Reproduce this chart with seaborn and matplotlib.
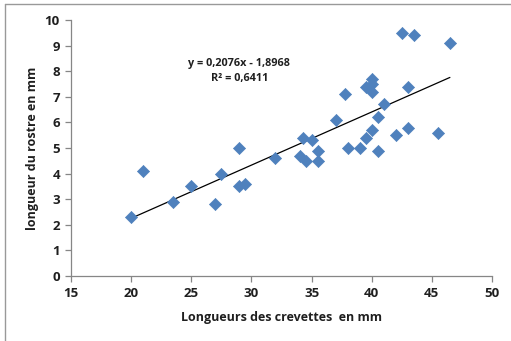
import numpy as np
import pandas as pd
import matplotlib
matplotlib.use("Agg")
import matplotlib.pyplot as plt
from matplotlib.lines import Line2D
import seaborn as sns

# Data
longueur_crevette = [20, 21, 23.5, 25, 27, 27.5, 29, 29, 29.5, 32,
                     34, 34.3, 34.5, 35, 35.5, 35.5, 37, 37.8, 38, 39,
                     39.5, 39.5, 40, 40, 40, 40, 40.5, 40.5, 41, 42,
                     42.5, 43, 43, 43.5, 45.5, 46.5]
longueur_rostre = [2.3, 4.1, 2.9, 3.5, 2.8, 4.0, 5.0, 3.5, 3.6, 4.6,
                   4.7, 5.4, 4.5, 5.3, 4.9, 4.5, 6.1, 7.1, 5.0, 5.0,
                   5.4, 7.4, 7.7, 7.5, 7.2, 5.7, 6.2, 4.9, 6.7, 5.5,
                   9.5, 7.4, 5.8, 9.4, 5.6, 9.1]
pente = 0.2076
ordonnee = -1.8968
r2 = 0.6411
x_ticks = [15, 20, 25, 30, 35, 40, 45, 50]
y_ticks = list(range(0, 11))

df = pd.DataFrame({"x": longueur_crevette, "y": longueur_rostre})

sns.set_theme(style="white")
plt.rcParams['font.family'] = ['Open Sans', 'DejaVu Sans']

fig = plt.figure(figsize=(5.11, 3.41), dpi=100)
ax = fig.add_axes([71/511, 1 - 276/341, (492-71)/511, (276-20)/341])

sns.scatterplot(data=df, x="x", y="y", ax=ax, marker="D", s=38,
                color="#4F81BD", edgecolor="#4F81BD", linewidth=0.5, zorder=3)

xl = np.array([min(longueur_crevette), max(longueur_crevette)])
ax.plot(xl, pente * xl + ordonnee, color="black", linewidth=0.9, zorder=2)

ax.set_xlim(15, 50)
ax.set_ylim(0, 10)
ax.set_xticks(x_ticks)
ax.set_yticks(y_ticks)
gray = "#868686"
for s in ["top", "right"]:
    ax.spines[s].set_visible(False)
for s in ["left", "bottom"]:
    ax.spines[s].set_color(gray)
    ax.spines[s].set_linewidth(0.9)
ax.tick_params(axis="both", direction="out", length=4, width=0.9, color=gray,
               labelsize=9.5, pad=4, bottom=True, left=True)
for lab in ax.get_xticklabels() + ax.get_yticklabels():
    lab.set_fontweight("bold")
    lab.set_color("#1f1f1f")

ax.set_xlabel("Longueurs des crevettes  en mm", fontsize=9, fontweight="bold",
              color="#1f1f1f", labelpad=8)
ax.set_ylabel("longueur du rostre en mm", fontsize=9, fontweight="bold",
              color="#1f1f1f", labelpad=4)

ax.text(29, 8.32, f"y = {str(pente).replace('.', ',')}x - {str(-ordonnee).replace('.', ',')}",
        ha="center", va="center", fontsize=7.8, fontweight="bold", color="#1f1f1f")
ax.text(29, 7.70, f"R² = {str(r2).replace('.', ',')}",
        ha="center", va="center", fontsize=7.8, fontweight="bold", color="#1f1f1f")

# partial outer frame (left and top)
fig.add_artist(Line2D([5/511, 5/511], [0, 1 - 4/341], transform=fig.transFigure,
                      color="#999999", linewidth=1))
fig.add_artist(Line2D([5/511, 1], [1 - 4/341, 1 - 4/341], transform=fig.transFigure,
                      color="#999999", linewidth=1))

fig.savefig("out.png", dpi=100)
